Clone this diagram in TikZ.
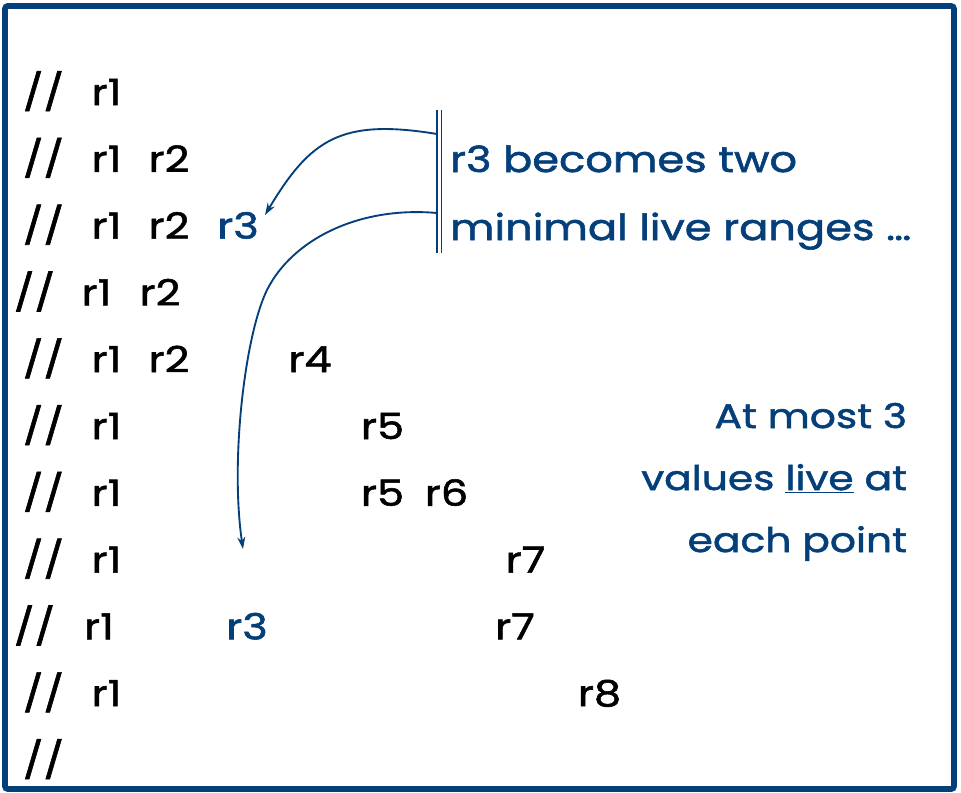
\documentclass[tikz,border=0pt]{standalone}
\usepackage{fontspec}
\setmainfont{Poppins}[FakeStretch=1.2,FakeBold=1.6]
\usetikzlibrary{arrows.meta}
\definecolor{navy}{RGB}{4,63,122}
\begin{document}
\begin{tikzpicture}[x=0.75pt,y=-0.75pt,
  tok/.style={anchor=base,inner sep=0pt,outer sep=0pt,font=\fontsize{27}{32}\selectfont,text=black},
  btok/.style={tok,text=navy},
  ltxt/.style={anchor=base west,inner sep=0pt,outer sep=0pt,font=\fontsize{27}{32}\selectfont,text=navy},
  note/.style={anchor=base east,inner sep=0pt,outer sep=0pt,font=\fontsize{25.5}{30}\selectfont,text=navy},
  conn/.style={navy,line width=1.4pt,-{Stealth[length=9pt,width=6pt]}},
  frame/.style={navy,line width=4.2pt,rounded corners=2pt}]
\useasboundingbox (0,0) rectangle (961,793);
\draw[frame] (5,6) rectangle (954,789);
% row 1
\node[tok] (s1) at (43.5,105) {//};
\node[tok] (a1) at (106.5,105) {r1};
% row 2
\node[tok] (s2) at (43.5,171.8) {//};
\node[tok] (a2) at (106.5,171.8) {r1};
\node[tok] (b2) at (169,171.8) {r2};
% row 3
\node[tok] (s3) at (43.5,238.6) {//};
\node[tok] (a3) at (106.5,238.6) {r1};
\node[tok] (b3) at (169,238.6) {r2};
\node[btok] (c3) at (238,238.6) {r3};
% row 4
\node[tok] (s4) at (34.5,305.4) {//};
\node[tok] (a4) at (96.5,305.4) {r1};
\node[tok] (b4) at (160,305.4) {r2};
% row 5
\node[tok] (s5) at (43.5,372.2) {//};
\node[tok] (a5) at (106.5,372.2) {r1};
\node[tok] (b5) at (169,372.2) {r2};
\node[tok] (d5) at (310,372.2) {r4};
% row 6
\node[tok] (s6) at (43.5,439) {//};
\node[tok] (a6) at (106.5,439) {r1};
\node[tok] (e6) at (382.5,439) {r5};
% row 7
\node[tok] (s7) at (43.5,505.8) {//};
\node[tok] (a7) at (106.5,505.8) {r1};
\node[tok] (e7) at (382.5,505.8) {r5};
\node[tok] (f7) at (446.5,505.8) {r6};
% row 8
\node[tok] (s8) at (43.5,572.6) {//};
\node[tok] (a8) at (106.5,572.6) {r1};
\node[tok] (g8) at (525.5,572.6) {r7};
% row 9
\node[tok] (s9) at (34.5,639.4) {//};
\node[tok] (a9) at (99,639.4) {r1};
\node[btok] (c9) at (247,639.4) {r3};
\node[tok] (g9) at (515,639.4) {r7};
% row 10
\node[tok] (s10) at (43.5,706.2) {//};
\node[tok] (a10) at (106.5,706.2) {r1};
\node[tok] (h10) at (599.5,706.2) {r8};
% row 11
\node[tok] (s11) at (43.5,773) {//};
% annotation
\node[ltxt] (n1) at (450,172) {r3 becomes two};
\node[ltxt] (n2) at (450,240) {minimal live ranges \ldots};
\draw[navy,line width=1.1pt] (437,110) -- (437,253);
\draw[navy,line width=1.1pt] (441.5,110) -- (441.5,253);
\coordinate (p1) at (437,134);
\coordinate (p2) at (437,213);
\coordinate (q1) at (265,215);
\coordinate (q2) at (243,549);
\draw[conn] (p1) .. controls (340,118) and (310,140) .. (q1);
\draw[conn] (p2) .. controls (358,206) and (292,240) .. (267,290)
  .. controls (245,335) and (230,460) .. (q2);
% right note
\node[note] (m1) at (907,428) {At most 3};
\node[note] (m2) at (907,490) {values \underline{live} at};
\node[note] (m3) at (907,552) {each point};
\end{tikzpicture}
\end{document}
